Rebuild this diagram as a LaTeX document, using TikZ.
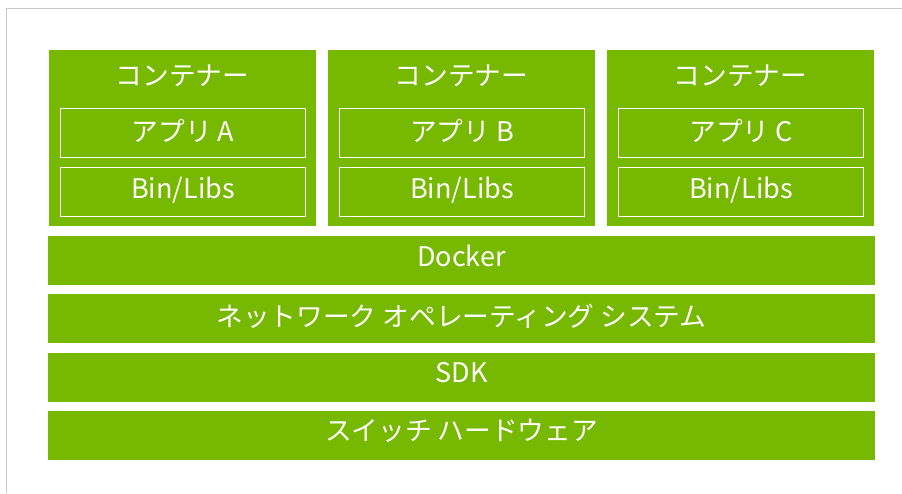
\documentclass[tikz,border=0pt]{standalone}
\usepackage{fontspec}
\setmainfont{Noto Sans CJK JP}
\definecolor{nvgreen}{HTML}{76B900}
\definecolor{framegray}{HTML}{C8C8C8}
\newcommand\jpsz{\fontsize{26.7}{26.7}\selectfont}
\newcommand\lsz{\fontsize{27}{27}\selectfont}
\tikzset{
  blk/.style={fill=nvgreen, draw=none, inner sep=0pt, outer sep=0pt},
  inbox/.style={draw=white, line width=1pt, fill=none, inner sep=0pt, outer sep=0pt, minimum width=245pt, minimum height=49pt},
  bar/.style={blk, minimum width=827pt, minimum height=49pt},
  cont/.style={blk, minimum width=267pt, minimum height=176pt},
  lbl/.style={text=white, inner sep=0pt, anchor=base}
}
\begin{document}
\begin{tikzpicture}[x=1pt,y=-1pt]
\useasboundingbox (0,0) rectangle (902,493);
\draw[framegray, line width=1.5pt] (6.5,493) -- (6.5,8.5) -- (902,8.5);
% containers
\node[cont] (ca) at (182.5,138) {};
\node[cont] (cb) at (461.5,138) {};
\node[cont] (cc) at (740.5,138) {};
\node[inbox] (aa) at (183,133) {};
\node[inbox] (ba) at (183,192) {};
\node[inbox] (ab) at (462,133) {};
\node[inbox] (bb) at (462,192) {};
\node[inbox] (ac) at (741,133) {};
\node[inbox] (bc) at (741,192) {};
% bars
\node[bar] (docker) at (461.5,260.5) {};
\node[bar] (nos) at (461.5,318.5) {};
\node[bar] (sdk) at (461.5,377.5) {};
\node[bar] (hw) at (461.5,435.5) {};
% labels
\node[lbl] (tca) at (182.5,85.5) {\jpsz コンテナー};
\node[lbl] (tcb) at (461.5,85.5) {\jpsz コンテナー};
\node[lbl] (tcc) at (740.5,85.5) {\jpsz コンテナー};
\node[lbl] (taa) at (183,141.5) {\jpsz アプリ \lsz A};
\node[lbl] (tab) at (462,141.5) {\jpsz アプリ \lsz B};
\node[lbl] (tac) at (741,141.5) {\jpsz アプリ \lsz C};
\node[lbl] (tba) at (183,198.5) {\lsz Bin/Libs};
\node[lbl] (tbb) at (462,198.5) {\lsz Bin/Libs};
\node[lbl] (tbc) at (741,198.5) {\lsz Bin/Libs};
\node[lbl] (tdocker) at (461.5,266) {\lsz Docker};
\node[lbl] (tnos) at (461.5,326.5) {\jpsz ネットワーク オペレーティング システム};
\node[lbl] (tsdk) at (461.5,382) {\lsz SDK};
\node[lbl] (thw) at (461.5,440.5) {\jpsz スイッチ ハードウェア};
\end{tikzpicture}
\end{document}
